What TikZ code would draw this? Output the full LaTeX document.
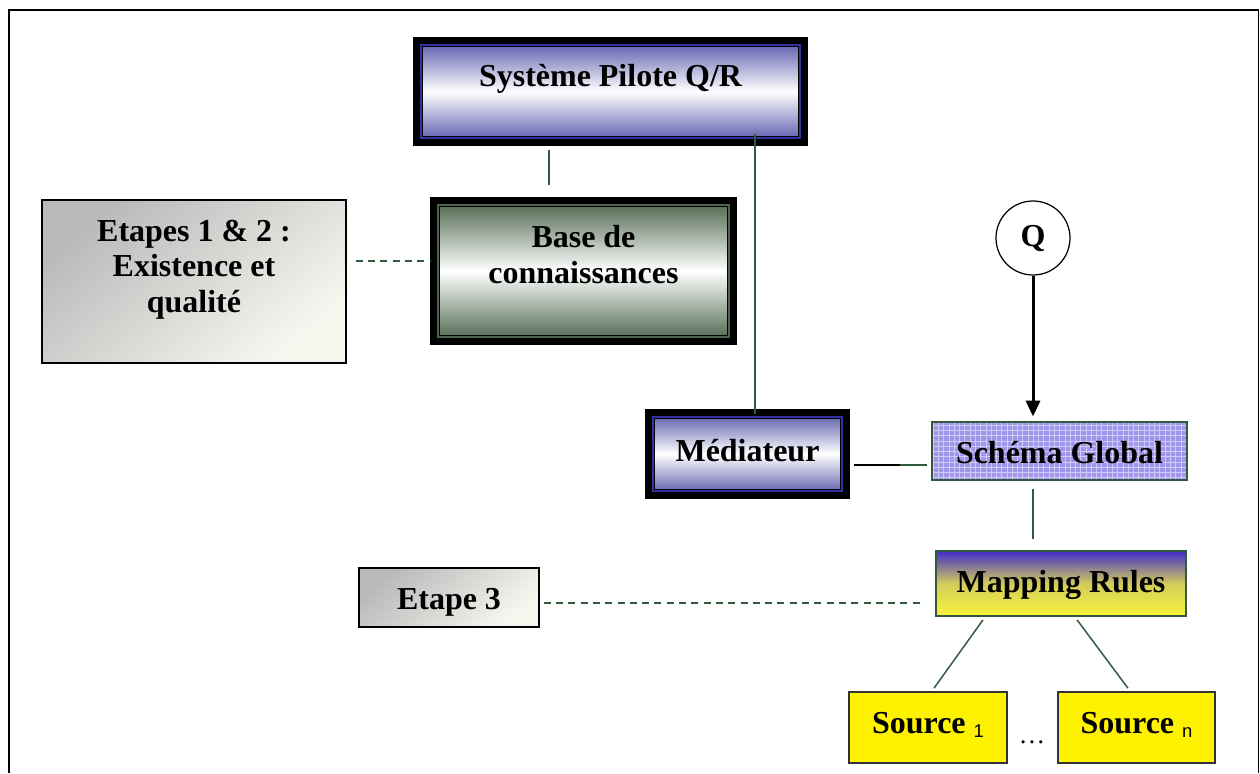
\documentclass[tikz,border=0pt]{standalone}
\usepackage{fontspec}
\usepackage{tikz}
\usetikzlibrary{arrows.meta,patterns}
\setmainfont{Liberation Serif}
\newfontfamily\subfont{Liberation Sans}

\definecolor{pilotblue}{RGB}{85,85,170}
\definecolor{frameblue}{RGB}{50,50,165}
\definecolor{kbgreen}{RGB}{75,100,75}
\definecolor{linkgreen}{RGB}{50,90,60}
\definecolor{lavender}{RGB}{160,150,236}
\definecolor{mapblue}{RGB}{65,45,205}
\definecolor{mapyellow}{RGB}{248,244,60}
\definecolor{stepgrey}{RGB}{185,185,185}
\definecolor{stepwhite}{RGB}{246,248,240}

\tikzset{
  txt/.style={font=\fontsize{18.2pt}{20pt}\selectfont\bfseries, align=center, inner sep=0pt},
  framebox/.style={txt, draw=black, line width=4pt,
    path picture={
      \draw[#1, line width=1.2pt] ([shift={(2.6pt,-2.6pt)}]path picture bounding box.north west)
        rectangle ([shift={(-2.6pt,2.6pt)}]path picture bounding box.south east);
      \draw[black, line width=0.5pt] ([shift={(3.6pt,-3.6pt)}]path picture bounding box.north west)
        rectangle ([shift={(-3.6pt,3.6pt)}]path picture bounding box.south east);
    }},
  pilotbox/.style={framebox=frameblue, top color=pilotblue, bottom color=pilotblue, middle color=white},
  kbbox/.style={framebox=kbgreen, top color=kbgreen, bottom color=kbgreen, middle color=white},
  stagebox/.style={txt, draw=black, line width=0.8pt, top color=stepgrey, bottom color=stepwhite, shading angle=40},
  schemabox/.style={txt, draw=linkgreen, line width=1.2pt, preaction={fill=lavender},
    pattern=grid, pattern color=white!50!lavender},
  mapbox/.style={txt, draw=linkgreen, line width=1.2pt, top color=mapblue,
    bottom color=mapyellow, middle color=mapyellow!80!mapblue},
  srcbox/.style={txt, draw=black!80, line width=1.2pt, fill=yellow},
  qnode/.style={txt, circle, draw=black, line width=0.7pt, minimum size=1.48cm},
  link/.style={draw=linkgreen, line width=0.85pt},
  dlink/.style={link, dash pattern=on 4pt off 3pt},
}
\newcommand{\idx}[1]{{\subfont\mdseries\fontsize{10.5pt}{12pt}\selectfont\raisebox{-2.8pt}{#1}}}

\begin{document}
\begin{tikzpicture}
  \useasboundingbox (0,0) rectangle (25.2,-15.46);
  % cadre
  \draw[line width=1pt] (0.18,-15.46) -- (0.18,-0.2) -- (25.17,-0.2) -- (25.17,-15.46);

  % boites
  \node[pilotbox, minimum width=7.76cm, text height=0.91cm, text depth=1.13cm] (sys) at (12.21,-1.83) {Système Pilote Q/R};
  \node[kbbox, minimum width=6cm, text height=1.65cm, text depth=1.17cm] (base) at (11.67,-5.42) {Base de\\connaissances};
  \node[stagebox, minimum width=6.08cm, text height=2.24cm, text depth=1.02cm] (etapes) at (3.88,-5.63) {Etapes 1 \& 2 :\\Existence et\\qualité};
  \node[pilotbox, minimum width=3.96cm, text height=0.97cm, text depth=0.69cm] (med) at (14.95,-9.08) {Médiateur};
  \node[schemabox, minimum width=5.1cm, text height=0.82cm, text depth=0.34cm] (schema) at (21.19,-9.02) {Schéma Global};
  \node[qnode] (q) at (20.66,-4.76) {Q};
  \node[mapbox, minimum width=5cm, text height=0.82cm, text depth=0.48cm] (map) at (21.22,-11.67) {Mapping Rules};
  \node[stagebox, minimum width=3.6cm, text height=0.82cm, text depth=0.36cm] (etape) at (8.98,-11.95) {Etape 3};
  \node[srcbox, minimum width=3.16cm, text height=0.82cm, text depth=0.6cm] (src1) at (18.56,-14.55) {Source \idx{1}};
  \node[srcbox, minimum width=3.14cm, text height=0.82cm, text depth=0.6cm] (srcn) at (22.73,-14.55) {Source \idx{n}};
  \node[font=\fontsize{15pt}{17pt}\selectfont, inner sep=0pt, anchor=base] (dots) at (20.64,-14.86) {…};

  % liens
  \coordinate (kbstub) at (10.98,-3.7);
  \coordinate (medlink) at ([xshift=0.15cm,yshift=-0.11cm]med.north);
  \draw[link, shorten <=2pt] (sys.south -| kbstub) -- (kbstub);
  \draw[link] ([yshift=0.25cm]sys.south -| medlink) -- (medlink);
  \draw[link, shorten <=2pt, shorten >=0.08cm] ([yshift=-0.22cm]med.east) -- ([yshift=-0.22cm]med.east -| schema.west);
  \draw[line width=1.2pt, shorten <=2pt] ([yshift=-0.22cm]med.east) -- ++(1,0);
  \draw[dlink, shorten <=0.18cm] ([yshift=0.41cm]etapes.east) -- ([yshift=0.41cm]etapes.east -| base.west);
  \draw[line width=1.7pt, -{Triangle[width=8pt,length=9pt]}] (q) -- ([yshift=0.09cm]schema.north -| q);
  \draw[link, shorten <=0.16cm, shorten >=0.22cm] (schema.south -| q) -- (map.north -| q);
  \draw[dlink, shorten <=0.08cm, shorten >=0.28cm] ([yshift=-0.11cm]etape.east) -- ([yshift=-0.11cm]etape.east -| map.west);
  \draw[link, shorten <=2pt, shorten >=2pt] ([xshift=-1.52cm]map.south) -- ([xshift=0.08cm]src1.north);
  \draw[link, shorten <=2pt, shorten >=2pt] ([xshift=0.28cm]map.south) -- ([xshift=-0.13cm]srcn.north);
\end{tikzpicture}
\end{document}
